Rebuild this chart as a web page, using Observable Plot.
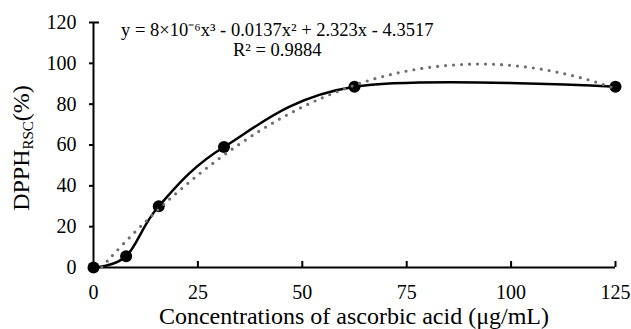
<!DOCTYPE html>
<html><head><meta charset="utf-8">
<script src="https://cdn.jsdelivr.net/npm/d3@7"></script>
<script src="https://cdn.jsdelivr.net/npm/@observablehq/plot@0.6"></script>
<style>body{margin:0;background:#fff;}</style>
</head><body><div id="chart"></div>
<script>
const concentrations = [0, 7.8125, 15.625, 31.25, 62.5, 125];
const scavenging = [0, 5.5, 30, 59, 88.5, 88.5];
const trendX = [2, 5, 10, 15, 20, 25, 30, 35, 40, 45, 50, 55, 60, 65, 70, 75, 80, 85, 90, 95, 100, 105, 110, 115, 120, 125];
const trendY = [0.2, 6.9, 17.5, 27.4, 36.7, 45.3, 53.2, 60.5, 67.2, 73.2, 78.6, 83.3, 87.4, 91.0, 93.9, 96.2, 97.9, 99.0, 99.6, 99.6, 99.0, 97.8, 96.1, 93.8, 91.0, 87.6];
const xTicks = [0, 25, 50, 75, 100, 125];
const yTicks = [0, 20, 40, 60, 80, 100, 120];
const equationText = "y = 8×10⁻⁶x³ - 0.0137x² + 2.323x - 4.3517\nR² = 0.9884";
const xTitle = "Concentrations of ascorbic acid (μg/mL)";

const W = 631, H = 329, mL = 93, mR = 16, mT = 22, mB = 62;
const frameW = W - mL - mR, frameH = H - mT - mB;
const font = "Liberation Serif";

const pts = concentrations.map((c, i) => ({x: c, y: scavenging[i]}));
const trend = trendX.map((c, i) => ({x: c, y: trendY[i]}));

const chart = Plot.plot({
  width: W, height: H,
  marginLeft: mL, marginRight: mR, marginTop: mT, marginBottom: mB,
  style: {fontFamily: font, fontSize: "20px", background: "#fff", color: "#000"},
  x: {domain: [0, 125], label: null, axis: null},
  y: {domain: [0, 120], label: null, axis: null},
  marks: [
    Plot.text(xTicks, {x: d => d, frameAnchor: "bottom", lineAnchor: "top", dy: 17, text: d => String(d), fontSize: 20, fontFamily: font, fill: "#000"}),
    Plot.text(yTicks, {y: d => d, frameAnchor: "left", textAnchor: "end", dx: -17, text: d => String(d), fontSize: 20, fontFamily: font, fill: "#000"}),
    Plot.tickY(yTicks, {frameAnchor: "left", insetLeft: -4, insetRight: frameW, stroke: "#000", strokeWidth: 2}),
    Plot.tickX(xTicks.slice(1), {insetTop: frameH - 6, stroke: "#000", strokeWidth: 2}),
    Plot.tickY([120], {insetRight: frameW - 6, stroke: "#000", strokeWidth: 2}),
    Plot.ruleY([0], {stroke: "#000", strokeWidth: 2}),
    Plot.ruleX([0], {stroke: "#000", strokeWidth: 2}),
    Plot.line(pts, {x: "x", y: "y", curve: "cardinal", tension: 0, stroke: "#000", strokeWidth: 2.5}),
    Plot.dot(pts, {x: "x", y: "y", r: 6, fill: "#000", stroke: "none"}),
    Plot.line(trend, {x: "x", y: "y", curve: "natural", stroke: "#6f6f6f", strokeWidth: 3.2, strokeDasharray: "0 8", strokeLinecap: "round"}),
    Plot.text([equationText], {x: 44, y: 103.8, text: d => d, textAnchor: "middle", lineAnchor: "bottom", lineHeight: 1.08, fontSize: 18.5, fontFamily: font, fill: "#000"})
  ]
});

const svg = d3.select(chart);
svg.append("text")
  .attr("x", mL + frameW / 2).attr("y", 324)
  .attr("text-anchor", "middle")
  .attr("font-family", font)
  .attr("font-size", 24).attr("fill", "#000")
  .text(xTitle);

const yt = svg.append("text")
  .attr("transform", "translate(29,148) rotate(-90)")
  .attr("text-anchor", "middle")
  .attr("font-family", font)
  .attr("font-size", 24).attr("fill", "#000");
yt.append("tspan").text("DPPH");
yt.append("tspan").attr("font-size", 15).attr("dy", "4").text("RSC");
yt.append("tspan").attr("dy", "-4").text("(%)");

document.getElementById("chart").appendChild(chart);
</script>
</body></html>
